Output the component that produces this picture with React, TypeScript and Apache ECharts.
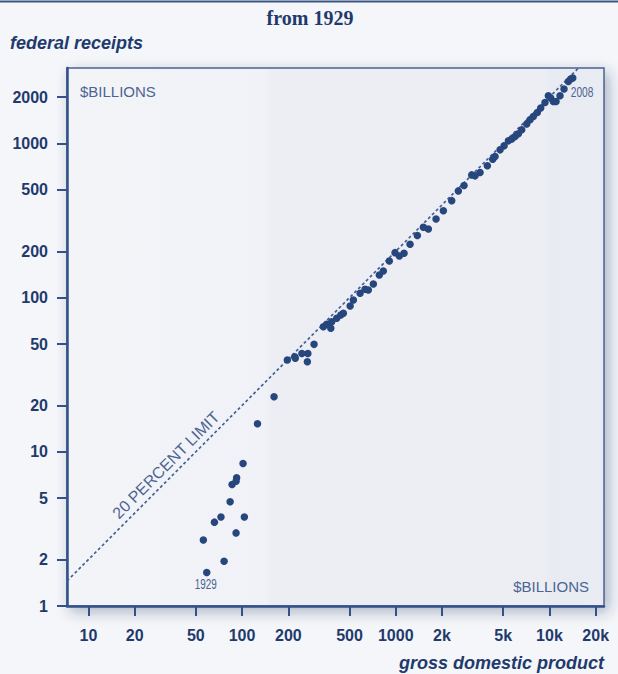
import React, { useEffect, useRef } from "react";
import * as echarts from "echarts";

// Gross domestic product ($billions), one value per year point
const GDP = [
  58.9, 56.0, 66.1, 72.9, 76.4, 83.6, 86.1, 91.4, 92.2, 91.4, 101.5, 103.5,
  126, 161.5, 197, 220, 222, 245, 268, 266, 294,
  338, 356, 378, 383, 413, 439, 456, 505, 530, 586, 631, 663, 715, 782, 830,
  908, 989, 1055, 1132, 1239, 1382, 1513, 1630, 1829, 2041, 2313, 2554, 2782,
  3121, 3281, 3536, 3945, 4277, 4427, 4773, 5070, 5407, 5689, 5973, 6280,
  6606, 7116, 7479, 7857, 8343, 8777, 9357, 9840, 10196, 10603, 11044, 11720,
  12444, 13275, 13762, 14186,
];
// Federal receipts ($billions), same order as GDP
const RECEIPTS = [
  1.65, 2.68, 3.5, 3.78, 1.95, 4.74, 6.14, 2.98, 6.78, 6.45, 8.41, 3.78,
  15.2, 22.8, 39.4, 41.4, 40.5, 43.5, 43.5, 38.4, 49.8,
  64.8, 67.2, 63.3, 69.8, 73.5, 77.2, 79.2, 88.3, 96.6, 106.9, 113.4, 112.2,
  122.7, 140.4, 149, 173, 196, 186.5, 194, 222, 253, 286, 279, 324, 366, 426,
  493, 534, 626, 617, 648, 717, 792, 823, 910, 966, 1041, 1069, 1110, 1156,
  1227, 1337, 1426, 1497, 1589, 1698, 1847, 2041, 1972, 1875, 1875, 2041,
  2256, 2527, 2620, 2660,
];
const FIRST_YEAR_LABEL = "1929";
const FIRST_YEAR_INDEX = 0;
const LAST_YEAR_LABEL = "2008";

const X_TICKS = [10, 20, 50, 100, 200, 500, 1000, 2000, 5000, 10000, 20000];
const X_TICK_LABELS = ["10", "20", "50", "100", "200", "500", "1000", "2k", "5k", "10k", "20k"];
const Y_TICKS = [1, 2, 5, 10, 20, 50, 100, 200, 500, 1000, 2000];
const Y_TICK_LABELS = ["1", "2", "5", "10", "20", "50", "100", "200", "500", "1000", "2000"];

const X_MIN = 7.26;
const X_MAX = 22650;
const Y_MIN = 1;
const Y_MAX = 3090;
const LIMIT_RATIO = 0.2;

const NAVY = "#1f3a6c";
const AXIS = "#34508a";
const DOT = "#27467d";
const SOFT = "#4c6493";
const SANS = "'Liberation Sans', Arial, sans-serif";

function lookup(ticks: number[], labels: string[], v: number) {
  let best = 0;
  let bd = Infinity;
  ticks.forEach((t, i) => {
    const d = Math.abs(Math.log10(t) - v);
    if (d < bd) {
      bd = d;
      best = i;
    }
  });
  return labels[best];
}

export default function App() {
  const ref = useRef<HTMLDivElement>(null);
  useEffect(() => {
    if (!ref.current) return;
    const chart = echarts.init(ref.current, undefined, { renderer: "svg" });
    const last = GDP.length - 1;
    const scatterData = GDP.map((g, i) => [g, RECEIPTS[i]]);

    const axisLabelCommon = {
      color: NAVY,
      fontSize: 16,
      fontWeight: "bold" as const,
      fontFamily: SANS,
    };

    const baseGraphic: any[] = [
      {
        type: "line",
        shape: { x1: 0, y1: 1.5, x2: 618, y2: 1.5 },
        style: { stroke: "#3b5583", lineWidth: 2 },
      },
      {
        type: "text",
        x: 310,
        y: 18,
        style: {
          text: "from 1929",
          align: "center",
          verticalAlign: "middle",
          fill: NAVY,
          font: "bold 20px 'Liberation Serif', 'DejaVu Serif', serif",
        },
      },
      {
        type: "text",
        x: 10,
        y: 43,
        style: {
          text: "federal receipts",
          align: "left",
          verticalAlign: "middle",
          fill: NAVY,
          font: `italic bold 18px ${SANS}`,
        },
      },
      {
        type: "text",
        x: 604,
        y: 663,
        style: {
          text: "gross domestic product",
          align: "right",
          verticalAlign: "middle",
          fill: NAVY,
          font: `italic bold 18px ${SANS}`,
        },
      },
      {
        type: "text",
        x: 80,
        y: 91,
        style: {
          text: "$BILLIONS",
          align: "left",
          verticalAlign: "middle",
          fill: SOFT,
          font: `15px ${SANS}`,
        },
      },
      {
        type: "text",
        x: 589,
        y: 586,
        style: {
          text: "$BILLIONS",
          align: "right",
          verticalAlign: "middle",
          fill: SOFT,
          font: `15px ${SANS}`,
        },
      },
      {
        type: "text",
        x: 166,
        y: 465,
        rotation: Math.PI / 4,
        style: {
          text: "20 PERCENT LIMIT",
          align: "center",
          verticalAlign: "middle",
          fill: SOFT,
          font: `16px ${SANS}`,
        },
      },
    ];

    chart.setOption({
      animation: false,
      backgroundColor: "#f5f6f9",
      grid: {
        left: 67,
        top: 68,
        right: 14,
        bottom: 68,
        show: true,
        backgroundColor: {
          type: "linear",
          x: 0,
          y: 0,
          x2: 1,
          y2: 0,
          colorStops: [
            { offset: 0, color: "#f3f4f8" },
            { offset: 0.37, color: "#f1f2f7" },
            { offset: 0.38, color: "#ecEEf4" },
            { offset: 0.89, color: "#eceef4" },
            { offset: 0.9, color: "#e8ebf2" },
            { offset: 1, color: "#e9ecf3" },
          ],
        },
        borderColor: "#4a6390",
        borderWidth: 1.5,
        shadowBlur: 14,
        shadowColor: "rgba(30,50,100,0.35)",
        shadowOffsetX: 4,
        shadowOffsetY: 5,
      },
      xAxis: [
        { type: "log", logBase: 10, min: X_MIN, max: X_MAX, show: false },
        {
          type: "value",
          position: "bottom",
          min: Math.log10(X_MIN),
          max: Math.log10(X_MAX),
          axisLine: { show: true, onZero: false, lineStyle: { color: AXIS, width: 2.5 } },
          axisTick: {
            show: true,
            length: 10,
            lineStyle: { color: AXIS, width: 2 },
            customValues: X_TICKS.map(Math.log10),
          },
          axisLabel: {
            ...axisLabelCommon,
            margin: 21,
            customValues: X_TICKS.map(Math.log10),
            formatter: (v: number) => lookup(X_TICKS, X_TICK_LABELS, v),
          },
          splitLine: { show: false },
        },
      ],
      yAxis: [
        { type: "log", logBase: 10, min: Y_MIN, max: Y_MAX, show: false },
        {
          type: "value",
          position: "left",
          min: Math.log10(Y_MIN),
          max: Math.log10(Y_MAX),
          axisLine: { show: true, onZero: false, lineStyle: { color: AXIS, width: 2.5 } },
          axisTick: {
            show: true,
            length: 10,
            lineStyle: { color: AXIS, width: 2 },
            customValues: Y_TICKS.map(Math.log10),
          },
          axisLabel: {
            ...axisLabelCommon,
            margin: 19,
            customValues: Y_TICKS.map(Math.log10),
            formatter: (v: number) => lookup(Y_TICKS, Y_TICK_LABELS, v),
          },
          splitLine: { show: false },
        },
      ],
      graphic: baseGraphic,
      series: [
        {
          type: "line",
          xAxisIndex: 0,
          yAxisIndex: 0,
          data: [
            [X_MIN, X_MIN * LIMIT_RATIO],
            [X_MAX, X_MAX * LIMIT_RATIO],
          ],
          symbol: "none",
          clip: true,
          silent: true,
          z: 2,
          lineStyle: { color: "#44609a", width: 1.7, type: [3, 2.5] },
        },
        {
          type: "scatter",
          xAxisIndex: 0,
          yAxisIndex: 0,
          data: scatterData,
          symbolSize: 7.5,
          z: 3,
          itemStyle: { color: DOT, opacity: 1 },
        },
      ],
    });

    // Year labels, placed next to their points through the chart's own scales
    const pFirst = chart.convertToPixel({ xAxisIndex: 0, yAxisIndex: 0 }, [
      GDP[FIRST_YEAR_INDEX],
      RECEIPTS[FIRST_YEAR_INDEX],
    ]) as number[];
    const pLast = chart.convertToPixel({ xAxisIndex: 0, yAxisIndex: 0 }, [
      GDP[last],
      RECEIPTS[last],
    ]) as number[];
    chart.setOption({
      graphic: [
        ...baseGraphic,
        {
          type: "text",
          x: pFirst[0] - 1,
          y: pFirst[1] + 12,
          scaleX: 0.66,
          style: {
            text: FIRST_YEAR_LABEL,
            align: "center",
            verticalAlign: "middle",
            fill: SOFT,
            font: `15px ${SANS}`,
          },
        },
        {
          type: "text",
          x: pLast[0] - 2,
          y: pLast[1] + 14,
          scaleX: 0.68,
          style: {
            text: LAST_YEAR_LABEL,
            align: "left",
            verticalAlign: "middle",
            fill: SOFT,
            font: `15px ${SANS}`,
          },
        },
      ],
    });
    return () => chart.dispose();
  }, []);
  return (
    <div
      ref={ref}
      style={{ position: "fixed", left: 0, top: 0, width: 618, height: 674 }}
    />
  );
}
